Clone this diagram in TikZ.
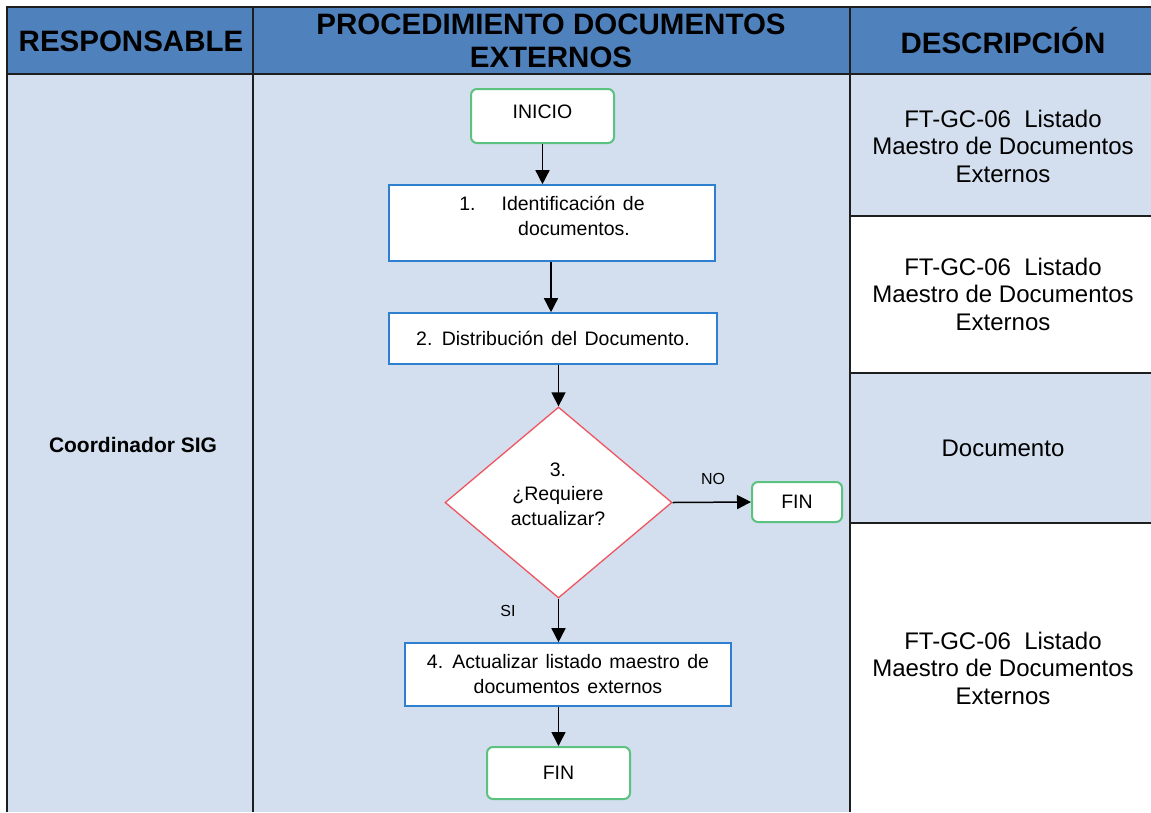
\documentclass[tikz,border=0pt]{standalone}
\usepackage{fontspec}
\setmainfont{Liberation Sans}
\usetikzlibrary{arrows.meta,shapes.geometric}
\definecolor{hdr}{HTML}{4F81BD}
\definecolor{lane}{HTML}{D3DFEE}
\definecolor{grid}{HTML}{1E1E1E}
\definecolor{startc}{HTML}{5BC27F}
\definecolor{procc}{HTML}{2F7FCF}
\definecolor{decc}{HTML}{EE5560}
\newcommand\myflowfont{\fontsize{19.5}{25}\selectfont\spaceskip=7.5pt plus 2pt\relax}
\tikzset{
  hdrtext/.style={font=\fontsize{29.5}{33}\selectfont\bfseries, align=center},
  desctext/.style={font=\fontsize{24}{27.5}\selectfont, align=center},
  term/.style={draw=startc, line width=2pt, rounded corners=6pt, fill=white, font=\fontsize{19.5}{23}\selectfont},
  proc/.style={draw=procc, line width=1.6pt, fill=white, font=\myflowfont, align=center},
  dec/.style={draw=decc, line width=1.3pt, fill=white},
  flow/.style={line width=1.5pt, -{Triangle[length=14pt,width=14pt]}},
  lbl/.style={font=\fontsize{16}{18}\selectfont},
  gridline/.style={draw=grid, line width=2pt}
}
\begin{document}
\begin{tikzpicture}[x=1pt,y=-1pt]
\useasboundingbox (0,0) rectangle (1151,812);
\fill[white] (0,0) rectangle (1151,812);
% header
\fill[hdr] (7,7) rectangle (1151,74);
% lanes
\fill[lane] (7,74) rectangle (850,812);
\fill[lane] (850,74) rectangle (1151,216);
\fill[white] (850,216) rectangle (1151,373);
\fill[lane] (850,373) rectangle (1151,523);
\fill[white] (850,523) rectangle (1151,812);
% grid
\draw[gridline] (1151,7) -- (7,7) -- (7,812);
\draw[gridline] (7,74) -- (1151,74);
\draw[gridline] (253,7) -- (253,812);
\draw[gridline] (850,7) -- (850,812);
\draw[gridline] (850,216) -- (1151,216);
\draw[gridline] (850,373) -- (1151,373);
\draw[gridline] (850,523) -- (1151,523);
% header texts
\node[hdrtext] (h1) at (131,41) {RESPONSABLE};
\node[hdrtext] (h2) at (551,41) {PROCEDIMIENTO DOCUMENTOS\\EXTERNOS};
\node[hdrtext] (h3) at (1003,41) {DESCRIPCIÓN};
% responsible
\node[font=\fontsize{21}{24}\selectfont\bfseries] (resp) at (133,445) {Coordinador SIG};
% descriptions
\node[desctext] (d1) at (1003,146) {FT-GC-06\ \ Listado\\Maestro de Documentos\\Externos};
\node[desctext] (d2) at (1003,294) {FT-GC-06\ \ Listado\\Maestro de Documentos\\Externos};
\node[desctext] (d3) at (1003,448) {Documento};
\node[desctext] (d4) at (1003,668) {FT-GC-06\ \ Listado\\Maestro de Documentos\\Externos};
% flowchart
\node[term, minimum width=143pt, minimum height=54pt, text depth=8pt] (inicio) at (542.5,116) {INICIO};
\node[proc, minimum width=326pt, minimum height=76pt, text depth=14pt] (p1) at (552,223) {1.\hspace*{26pt}Identificación de\\\hspace*{44pt}documentos.};
\node[proc, minimum width=328pt, minimum height=51pt] (p2) at (553,338.5) {2. Distribución del Documento.};
\node[dec, diamond, minimum width=227pt, minimum height=191pt, inner sep=0pt] (d) at (558.5,502.5) {};
\node[font=\fontsize{19.5}{24.5}\selectfont, align=center] (dtext) at (558,494) {3.\\¿Requiere\\actualizar?};
\node[term, minimum width=90pt, minimum height=40pt] (fin1) at (797,502) {FIN};
\node[proc, minimum width=326pt, minimum height=63pt] (p4) at (568,674.5) {4. Actualizar listado maestro de\\documentos externos};
\node[term, minimum width=143pt, minimum height=52pt] (fin2) at (558.5,773) {FIN};
\node[lbl] (no) at (713,479) {NO};
\node[lbl] (si) at (508,611) {SI};
% connectors
\draw[flow] (inicio.south) -- (inicio.south |- p1.north);
\draw[flow] (p1.south -| 551,0) -- (551,0 |- p2.north);
\draw[flow] (p2.south -| d.north) -- (d.north);
\draw[flow] (d.east) -- (fin1.west);
\draw[flow] (d.south) -- (d.south |- p4.north);
\draw[flow] (p4.south -| fin2.north) -- (fin2.north);
\end{tikzpicture}
\end{document}
